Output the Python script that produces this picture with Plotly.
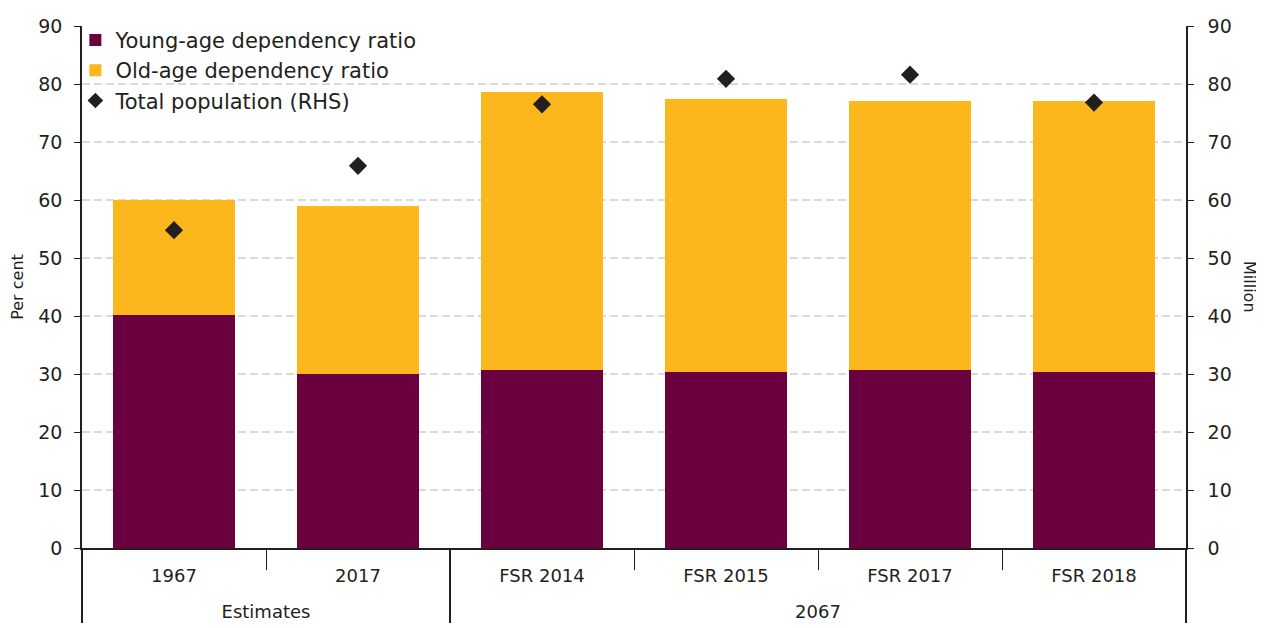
import plotly.graph_objects as go

groups = ["Estimates", "Estimates", "2067", "2067", "2067", "2067"]
categories = ["1967", "2017", "FSR 2014", "FSR 2015", "FSR 2017", "FSR 2018"]
young_age = [40.1, 30.0, 30.7, 30.4, 30.7, 30.4]
old_age = [19.9, 29.0, 48.0, 47.0, 46.4, 46.7]
total_population = [54.8, 65.9, 76.5, 80.9, 81.6, 76.8]

FONT = "DejaVu Sans"
# group labels pushed down one line to sit lower beneath the category labels
x = [["<br>" + g for g in groups], categories]

fig = go.Figure()
fig.add_trace(go.Bar(x=x, y=young_age, name="Young-age dependency ratio",
                     marker=dict(color="#6B003E", line=dict(width=0))))
fig.add_trace(go.Bar(x=x, y=old_age, name="Old-age dependency ratio",
                     marker=dict(color="#FBB71C", line=dict(width=0))))
fig.add_trace(go.Scatter(x=x, y=total_population, name="Total population (RHS)",
                         mode="markers", yaxis="y2",
                         marker=dict(symbol="diamond", size=14, color="#231F20")))

# page body has an 8px margin, so the figure is offset by 8px
fig.update_layout(
    width=1256, height=620,
    margin=dict(l=74, r=78, t=14, b=80),
    barmode="stack", bargap=0.335,
    plot_bgcolor="white", paper_bgcolor="white",
    font=dict(family=FONT, size=18, color="#231F20"),
    showlegend=True,
    legend=dict(x=-0.006, y=1.012, xanchor="left", yanchor="top", traceorder="normal",
                bgcolor="rgba(0,0,0,0)", font=dict(size=21),
                itemsizing="constant", tracegroupgap=0, itemwidth=30),
    xaxis=dict(type="multicategory", showline=True, linecolor="#231F20", linewidth=1.5,
               ticks="outside", tickson="boundaries", ticklen=20, tickcolor="#231F20",
               showdividers=True, dividercolor="#231F20", dividerwidth=1.5,
               tickfont=dict(size=18), showgrid=False, automargin=False,
               ticklabelstandoff=11),
    yaxis=dict(range=[0, 90], dtick=10, showline=True, linecolor="#231F20", linewidth=1.5,
               ticks="outside", ticklen=6, tickcolor="#231F20", ticklabelstandoff=8,
               showgrid=True, gridcolor="#D9D9D9", griddash="8px,4px", gridwidth=1.5,
               zeroline=False, tickfont=dict(size=19), automargin=False,
               title=dict(text="Per cent", font=dict(size=16), standoff=16)),
    yaxis2=dict(range=[0, 90], dtick=10, overlaying="y", side="right",
                showline=True, linecolor="#231F20", linewidth=1.5,
                ticks="outside", ticklen=6, tickcolor="#231F20", ticklabelstandoff=10,
                showgrid=False, zeroline=False, tickfont=dict(size=19), automargin=False),
)

fig.add_annotation(text="Million", xref="paper", yref="paper", x=1.0, y=0.5,
                   xanchor="center", yanchor="middle",
                   xshift=64, textangle=90, showarrow=False, font=dict(size=16))

fig.write_html("out.html")
